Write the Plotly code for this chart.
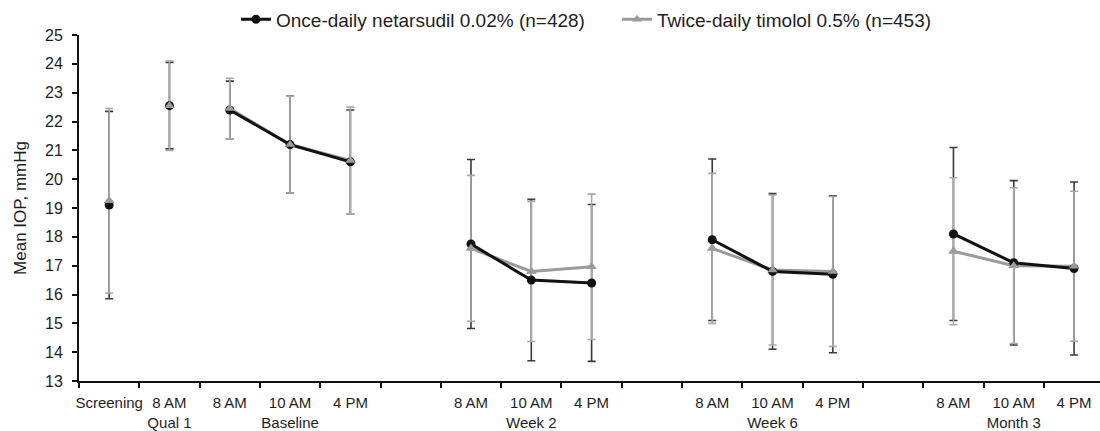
import plotly.graph_objects as go

# ---------------- data ----------------
time_labels = ["Screening", "8 AM", "8 AM", "10 AM", "4 PM",
               "8 AM", "10 AM", "4 PM",
               "8 AM", "10 AM", "4 PM",
               "8 AM", "10 AM", "4 PM"]
visit_labels = ["", "Qual 1", "Baseline", "Baseline", "Baseline",
                "Week 2", "Week 2", "Week 2",
                "Week 6", "Week 6", "Week 6",
                "Month 3", "Month 3", "Month 3"]
slot_index = [0, 1, 2, 3, 4, 6, 7, 8, 10, 11, 12, 14, 15, 16]

netarsudil_mean = [19.10, 22.55, 22.40, 21.20, 20.60,
                   17.75, 16.50, 16.40,
                   17.90, 16.80, 16.70,
                   18.10, 17.10, 16.90]
netarsudil_sd = [3.25, 1.50, 1.00, 1.68, 1.80,
                 2.93, 2.80, 2.72,
                 2.80, 2.70, 2.72,
                 3.00, 2.85, 3.00]
timolol_mean = [19.25, 22.55, 22.45, 21.20, 20.65,
                17.60, 16.80, 16.96,
                17.60, 16.85, 16.80,
                17.50, 17.00, 16.98]
timolol_sd = [3.20, 1.55, 1.05, 1.68, 1.85,
              2.53, 2.43, 2.52,
              2.60, 2.60, 2.60,
              2.55, 2.70, 2.60]

series_names = ["Once-daily netarsudil 0.02% (n=428)",
                "Twice-daily timolol 0.5% (n=453)"]
y_ticks = list(range(13, 26))

# ---------------- helpers ----------------
x_center = [s + 0.5 for s in slot_index]


def with_gaps(xs, ys):
    """Insert None between visits so lines only join points within a visit."""
    gx, gy = [], []
    prev = None
    for x, y, v in zip(xs, ys, visit_labels):
        key = v if v else "Screening"
        if prev is not None and key != prev:
            gx.append(None)
            gy.append(None)
        gx.append(x)
        gy.append(y)
        prev = key
    return gx, gy


BLACK = "#111111"
GRAY = "#9b9b9b"

fig = go.Figure()

# error bars (netarsudil under timolol)
fig.add_trace(go.Scatter(
    x=x_center, y=netarsudil_mean, mode="markers",
    marker=dict(size=1, color="rgba(0,0,0,0)"),
    error_y=dict(type="data", array=netarsudil_sd, color="#3a3a3a",
                 thickness=1.6, width=4),
    showlegend=False, hoverinfo="skip"))
fig.add_trace(go.Scatter(
    x=x_center, y=timolol_mean, mode="markers",
    marker=dict(size=1, color="rgba(0,0,0,0)"),
    error_y=dict(type="data", array=timolol_sd, color="#a8a8a8",
                 thickness=1.6, width=4),
    showlegend=False, hoverinfo="skip"))

tx, ty = with_gaps(x_center, timolol_mean)
nx, ny = with_gaps(x_center, netarsudil_mean)

fig.add_trace(go.Scatter(
    x=tx, y=ty, mode="lines+markers", name=series_names[1],
    line=dict(color=GRAY, width=3),
    marker=dict(symbol="triangle-up", size=9, color=GRAY),
    connectgaps=False, legendrank=2))
fig.add_trace(go.Scatter(
    x=nx, y=ny, mode="lines+markers", name=series_names[0],
    line=dict(color=BLACK, width=3),
    marker=dict(symbol="circle", size=9, color=BLACK),
    connectgaps=False, legendrank=1))
# timolol markers on top
fig.add_trace(go.Scatter(
    x=x_center, y=timolol_mean, mode="markers",
    marker=dict(symbol="triangle-up", size=9, color=GRAY),
    showlegend=False, hoverinfo="skip"))

ticktext = [t + ("<br>" + v if v and (v == "Qual 1" or i in (3, 6, 9, 12)) else "")
            for i, (t, v) in enumerate(zip(time_labels, visit_labels))]

FONT = "Liberation Sans, Arial, sans-serif"

fig.update_layout(
    width=1100, height=431,
    margin=dict(l=79, r=0, t=32, b=48),
    paper_bgcolor="white", plot_bgcolor="white",
    font=dict(family=FONT, color="#1e1e1e", size=15),
    showlegend=True,
    legend=dict(orientation="h", x=(236 - 79) / 1021, xanchor="left",
                y=1.045, yanchor="middle",
                font=dict(size=19, family=FONT, color="#1e1e1e"),
                bgcolor="rgba(0,0,0,0)", itemwidth=30,
                entrywidth=336, entrywidthmode="pixels"),
    xaxis=dict(range=[0, 16.93], tickmode="array", tickvals=x_center,
               ticktext=ticktext, ticks="outside", ticklen=8,
               tickcolor="rgba(0,0,0,0)", showgrid=False, zeroline=False,
               showline=False, tickfont=dict(size=15), fixedrange=True),
    xaxis2=dict(range=[0, 16.93], overlaying="x", anchor="y", side="bottom",
                tickmode="array", tickvals=list(range(0, 17)),
                showticklabels=False, ticks="outside", ticklen=5,
                tickwidth=2, tickcolor=BLACK, showline=True,
                linecolor=BLACK, linewidth=2, showgrid=False,
                zeroline=False),
    yaxis=dict(range=[13, 25], tickmode="array", tickvals=y_ticks,
               ticks="outside", ticklen=5, tickwidth=2, tickcolor=BLACK,
               showline=True, linecolor=BLACK, linewidth=2,
               showgrid=False, zeroline=False,
               tickfont=dict(size=16), ticklabelstandoff=6,
               title=dict(text="Mean IOP, mmHg", font=dict(size=17),
                          standoff=14)),
)
# dummy trace for the tick-mark axis
fig.add_trace(go.Scatter(x=[None], y=[None], xaxis="x2", showlegend=False))

fig.write_html("out.html")
